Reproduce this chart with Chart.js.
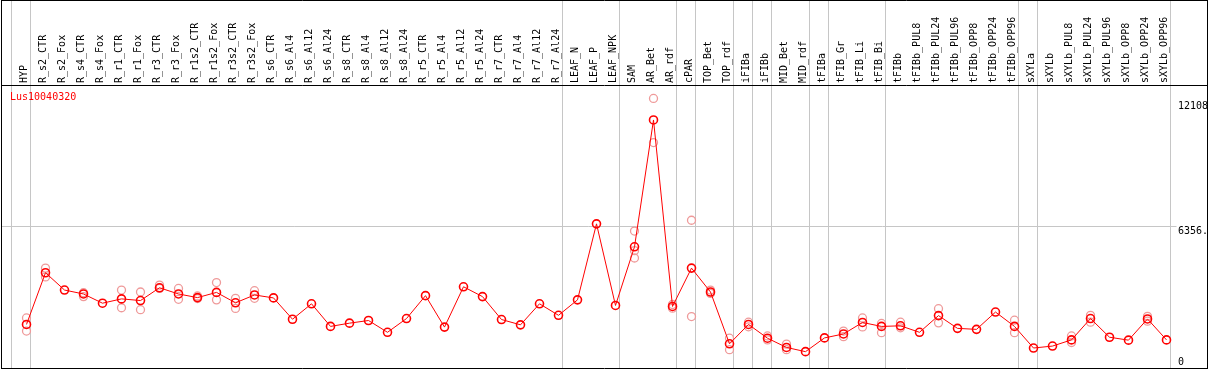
<!DOCTYPE html>
<html><head><meta charset="utf-8">
<script src="https://cdn.jsdelivr.net/npm/chart.js"></script>
<style>html,body{margin:0;padding:0;overflow:hidden;background:#fff;width:1209px;height:370px}canvas{display:block}</style>
</head><body>
<canvas id="c" width="1209" height="373"></canvas>
<script>
const categories = ['HYP','R_s2_CTR','R_s2_Fox','R_s4_CTR','R_s4_Fox','R_r1_CTR','R_r1_Fox','R_r3_CTR','R_r3_Fox','R_r1s2_CTR','R_r1s2_Fox','R_r3s2_CTR','R_r3s2_Fox','R_s6_CTR','R_s6_Al4','R_s6_Al12','R_s6_Al24','R_s8_CTR','R_s8_Al4','R_s8_Al12','R_s8_Al24','R_r5_CTR','R_r5_Al4','R_r5_Al12','R_r5_Al24','R_r7_CTR','R_r7_Al4','R_r7_Al12','R_r7_Al24','LEAF_N','LEAF_P','LEAF_NPK','SAM','AR_Bet','AR_rdf','cPAR','TOP_Bet','TOP_rdf','iFIBa','iFIBb','MID_Bet','MID_rdf','tFIBa','tFIB_Gr','tFIB_Li','tFIB_Bi','tFIBb','tFIBb_PUL8','tFIBb_PUL24','tFIBb_PUL96','tFIBb_OPP8','tFIBb_OPP24','tFIBb_OPP96','sXYLa','sXYLb','sXYLb_PUL8','sXYLb_PUL24','sXYLb_PUL96','sXYLb_OPP8','sXYLb_OPP24','sXYLb_OPP96'];
const meanValues = [1934,4261,3482,3305,2890,3084,3009,3584,3305,3142,3376,2907,3261,3128,2168,2863,1845,1991,2111,1580,2199,3230,1814,3629,3186,2155,1916,2863,2345,3040,6461,2788,5430,11138,2744,4469,3394,1062,1934,1314,898,708,1328,1505,2022,1845,1872,1580,2332,1757,1712,2491,1845,872,960,1239,2199,1358,1226,2182,1239];
const replicateValues = [[2226,1637],[4469,4071],[],[3363,3186],[],[3482,2686],[3394,2597],[3704,3553],[3553,3066],[3217,3098],[3819,3040],[3111,2655],[3452,3111],[],[],[],[],[],[],[],[],[],[],[],[],[],[],[],[],[],[],[],[6138,5253,4925],[12108,10120],[2832,2668],[6624,2288],[3482,3332],[1314,797],[2036,1828],[1416,1239],[1049,797],[],[],[1637,1385],[2226,1820],[1978,1562],[2036,1783],[],[2642,2005],[],[],[],[2124,1562],[],[],[1416,1120],[2345,2036],[],[],[2301,2080],[]];
const yTickValues = [0, 6356, 12108];
const yTickLabels = ['0', '6356.', '12108'];
const separatorAfter = [-1, 0, 28, 31, 34, 35, 37, 38, 39, 41, 42, 45, 52, 53, 60];
const geneName = 'Lus10040320';
const yMax = 12712;

const FONT = 'DejaVu Sans Mono';
const repPoints = [];
replicateValues.forEach((arr, i) => arr.forEach(v => repPoints.push({x: categories[i], y: v})));

const frame = {
  id: 'frame',
  beforeDatasetsDraw(chart) {
    const {ctx, scales: {x, y}} = chart;
    const step = x.getPixelForValue(1) - x.getPixelForValue(0);
    ctx.save();
    ctx.strokeStyle = '#c6c6c6';
    ctx.lineWidth = 1;
    ctx.beginPath();
    separatorAfter.forEach(i => {
      const px = Math.round(x.getPixelForValue(i) + 0.2 * step) + 0.5;
      ctx.moveTo(px, 0); ctx.lineTo(px, 369);
    });
    const gy = Math.round(y.getPixelForValue(yTickValues[1])) + 0.5;
    ctx.moveTo(1, gy); ctx.lineTo(x.right + 10, gy);
    ctx.stroke();
    ctx.restore();
  },
  afterDraw(chart) {
    const {ctx, scales: {x, y}, chartArea: a} = chart;
    ctx.save();
    ctx.strokeStyle = '#000';
    ctx.lineWidth = 1;
    ctx.beginPath();
    ctx.moveTo(1, 0.5); ctx.lineTo(1208, 0.5);
    ctx.moveTo(1, a.top + 0.5); ctx.lineTo(1208, a.top + 0.5);
    ctx.moveTo(1.5, 0); ctx.lineTo(1.5, 369);
    ctx.moveTo(1207.5, 0); ctx.lineTo(1207.5, 369);
    ctx.moveTo(1, 368.5); ctx.lineTo(1208, 368.5);
    ctx.stroke();
    ctx.font = '10px "' + FONT + '"';
    ctx.textBaseline = 'top';
    ctx.textAlign = 'left';
    ctx.fillStyle = '#ff0000';
    ctx.fillText(geneName, 10, a.top + 7);
    ctx.fillStyle = '#000';
    yTickValues.forEach((v, k) => {
      let ty = y.getPixelForValue(v);
      ty = Math.min(Math.max(ty, a.top + 16), 357);
      ctx.fillText(yTickLabels[k], x.right + 11.5, ty);
    });
    ctx.restore();
  }
};

new Chart(document.getElementById('c'), {
  type: 'line',
  data: {
    labels: categories,
    datasets: [
      {
        label: geneName,
        data: meanValues,
        borderColor: '#ff0000',
        borderWidth: 1,
        pointStyle: 'circle',
        pointRadius: 4,
        pointBorderWidth: 1.6,
        pointBorderColor: '#ff0000',
        pointBackgroundColor: 'rgba(0,0,0,0)',
        tension: 0,
        clip: false
      },
      {
        label: 'replicates',
        data: repPoints,
        showLine: false,
        pointStyle: 'circle',
        pointRadius: 4,
        pointBorderWidth: 1.3,
        pointBorderColor: '#ef9a9a',
        pointBackgroundColor: 'rgba(0,0,0,0)',
        clip: false
      }
    ]
  },
  options: {
    responsive: false,
    animation: false,
    devicePixelRatio: 1,
    layout: {padding: {left: 26.5, right: 42.5, top: 0, bottom: 1}},
    plugins: {legend: {display: false}, tooltip: {enabled: false}},
    scales: {
      x: {
        type: 'category',
        position: 'top',
        offset: false,
        grid: {display: false, drawTicks: false},
        border: {display: false},
        ticks: {autoSkip: false, minRotation: 90, maxRotation: 90, padding: 2, color: '#000',
                font: {family: FONT, size: 10, lineHeight: 0.25}},
        afterFit(s) { s.height = 85; s.paddingLeft = 0; s.paddingRight = 0; }
      },
      y: {
        display: false,
        min: 0,
        max: yMax
      }
    }
  },
  plugins: [frame]
});
</script>
</body></html>
